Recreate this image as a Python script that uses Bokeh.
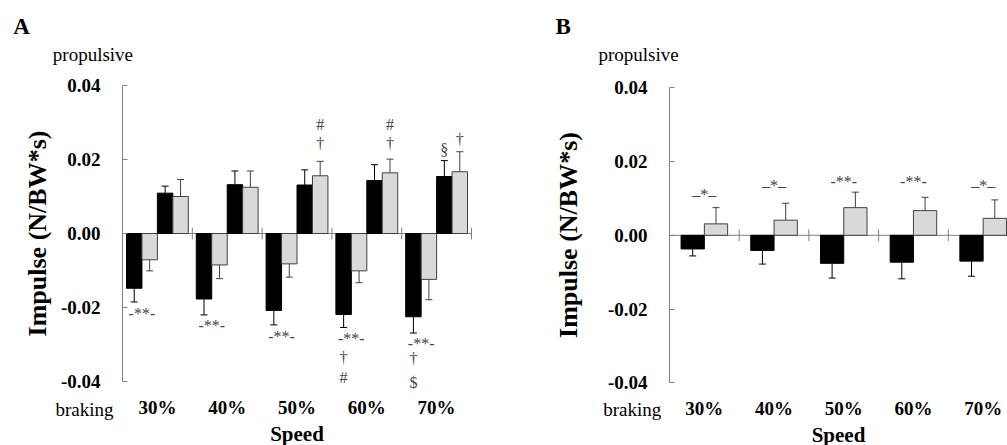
import numpy as np
from bokeh.plotting import figure
from bokeh.layouts import row
from bokeh.models import (Range1d, FixedTicker, NumeralTickFormatter, Whisker,
                          TeeHead, ColumnDataSource, Label)
from bokeh.core.properties import value
from bokeh.embed import file_html
from bokeh.resources import INLINE

# ---------------- data ----------------
speeds = ["30%", "40%", "50%", "60%", "70%"]

# Panel A
a_brake_black = [-0.0148, -0.0177, -0.0208, -0.0219, -0.0225]
a_brake_black_sd = [0.0037, 0.0043, 0.0039, 0.0035, 0.0044]
a_brake_grey = [-0.0071, -0.0085, -0.0082, -0.0101, -0.0124]
a_brake_grey_sd = [0.0030, 0.0037, 0.0036, 0.0032, 0.0055]
a_prop_black = [0.0109, 0.0132, 0.0131, 0.0143, 0.0154]
a_prop_black_sd = [0.0019, 0.0037, 0.0041, 0.0043, 0.0043]
a_prop_grey = [0.0100, 0.0125, 0.0156, 0.0164, 0.0167]
a_prop_grey_sd = [0.0046, 0.0044, 0.0039, 0.0037, 0.0054]

# Panel B
b_black = [-0.0037, -0.0041, -0.0076, -0.0073, -0.0070]
b_black_sd = [0.0019, 0.0037, 0.0040, 0.0045, 0.0041]
b_grey = [0.0031, 0.0041, 0.0075, 0.0067, 0.0046]
b_grey_sd = [0.0044, 0.0046, 0.0042, 0.0036, 0.0050]

# significance marks: (speed index, bar slot, y value, text)
a_marks = [
    (0, -1.0, -0.02154, "-**-"), (1, -1.0, -0.02486, "-**-"),
    (2, -1.0, -0.02784, "-**-"), (3, -1.0, -0.02830, "-**-"),
    (4, -1.0, -0.02981, "-**-"),
    (3, -1.5, -0.03343, "\u2020"), (3, -1.5, -0.03892, "#"),
    (4, -1.5, -0.03370, "\u2020"), (4, -1.5, -0.04035, "$"),
    (2, 1.5, 0.02440, "\u2020"), (2, 1.5, 0.02946, "#"),
    (3, 1.5, 0.02440, "\u2020"), (3, 1.5, 0.02946, "#"),
    (4, 0.5, 0.02262, "\u00a7"), (4, 1.5, 0.02532, "\u2020"),
]
b_marks = [
    (0, 0.0, 0.01098, "\u2013*\u2013"), (1, 0.0, 0.01350, "\u2013*\u2013"),
    (2, 0.0, 0.01459, "-**-"), (3, 0.0, 0.01459, "-**-"),
    (4, 0.0, 0.01350, "\u2013*\u2013"),
]

y_ticks = [-0.04, -0.02, 0.0, 0.02, 0.04]

# ---------------- style ----------------
FONT = "Liberation Serif"
BLACK = "#000000"
GREY_FILL = "#d9d9d9"
GREY_LINE = "#404040"
AXIS = "#808080"
NOTE = "#444444"

H = 445
W_A, W_B = 540, 467


def base_fig(width, xr, yr, title_standoff):
    p = figure(width=width, height=H, x_range=xr, y_range=yr,
               output_backend="svg", toolbar_location=None, min_border=0)
    p.outline_line_color = None
    p.xgrid.visible = False
    p.ygrid.visible = False
    p.background_fill_color = "white"
    p.border_fill_color = "white"

    n = len(speeds)
    ya = p.yaxis[0]
    ya.fixed_location = 0
    ya.ticker = FixedTicker(ticks=y_ticks)
    ya.formatter = NumeralTickFormatter(format="0.00")
    ya.bounds = (-0.04, 0.04)
    ya.axis_line_color = AXIS
    ya.major_tick_line_color = AXIS
    ya.major_tick_in = 5
    ya.major_tick_out = 0
    ya.minor_tick_line_color = None
    ya.major_label_standoff = 22
    ya.major_label_text_font = FONT
    ya.major_label_text_font_style = "bold"
    ya.major_label_text_font_size = "19px"
    ya.major_label_text_color = BLACK
    ya.axis_label = "Impulse (N/BW*s)"
    ya.axis_label_text_font = FONT
    ya.axis_label_text_font_style = "bold"
    ya.axis_label_text_font_size = "26px"
    ya.axis_label_text_color = BLACK
    ya.axis_label_standoff = title_standoff

    xa = p.xaxis[0]
    xa.fixed_location = -0.04343
    xa.bounds = (0, n)
    centers = [i + 0.5 for i in range(n)]
    xa.ticker = FixedTicker(ticks=centers)
    xa.major_label_overrides = {c: s for c, s in zip(centers, speeds)}
    xa.axis_line_color = None
    xa.major_tick_line_color = None
    xa.minor_tick_line_color = None
    xa.major_tick_in = 0
    xa.major_tick_out = 0
    xa.major_label_standoff = 3
    xa.major_label_text_font = FONT
    xa.major_label_text_font_style = "bold"
    xa.major_label_text_font_size = "19px"
    xa.major_label_text_color = BLACK
    xa.axis_label = "Speed"
    xa.axis_label_text_font = FONT
    xa.axis_label_text_font_style = "bold"
    xa.axis_label_text_font_size = "21px"
    xa.axis_label_text_color = BLACK
    xa.axis_label_standoff = 0

    # zero line with group separators
    p.segment(x0=[0], x1=[n], y0=[0], y1=[0], line_color=AXIS, line_width=1)
    seps = np.arange(1, n + 1)
    p.segment(x0=seps, x1=seps, y0=-0.0016, y1=0.0016, line_color=AXIS, line_width=1)
    return p


def bars(p, slot, width, vals, sds, fill, line, err_color):
    idx = np.arange(len(speeds)) + 0.5
    x = idx + slot * width
    v = np.array(vals)
    s = np.array(sds)
    p.vbar(x=x, bottom=0, top=v, width=width, fill_color=fill,
           line_color=line, line_width=1)
    if v.mean() < 0:
        src = ColumnDataSource(dict(x=x, lower=v - s, upper=v))
        w = Whisker(source=src, base="x", lower="lower", upper="upper",
                    dimension="height", line_color=err_color, line_width=1,
                    lower_head=TeeHead(size=7, line_color=err_color, line_width=1),
                    upper_head=None)
    else:
        src = ColumnDataSource(dict(x=x, lower=v, upper=v + s))
        w = Whisker(source=src, base="x", lower="lower", upper="upper",
                    dimension="height", line_color=err_color, line_width=1,
                    upper_head=TeeHead(size=7, line_color=err_color, line_width=1),
                    lower_head=None)
    p.add_layout(w)


def marks(p, items, width, color):
    xs = [i + 0.5 + slot * width for i, slot, _, _ in items]
    ys = [y for _, _, y, _ in items]
    ts = [t for _, _, _, t in items]
    src = ColumnDataSource(dict(x=xs, y=ys, t=ts))
    p.text(x="x", y="y", text="t", source=src, text_align="center",
           text_baseline="middle", text_font=value(FONT),
           text_font_size="16px", text_color=color)


def side_labels(p, letter_xy, prop_xy, brake_xy):
    p.add_layout(Label(x=letter_xy[0], y=letter_xy[1], text=letter_xy[2],
                       text_font=FONT, text_font_style="bold",
                       text_font_size="23px", text_align="left",
                       text_baseline="middle", text_color=BLACK))
    p.add_layout(Label(x=prop_xy[0], y=prop_xy[1], text="propulsive",
                       text_font=FONT, text_font_size="19px",
                       text_align="left", text_baseline="middle",
                       text_color=BLACK))
    p.add_layout(Label(x=brake_xy[0], y=brake_xy[1], text="braking",
                       text_font=FONT, text_font_size="19px",
                       text_align="right", text_baseline="middle",
                       text_color=BLACK))


# ---------------- panel A ----------------
# x: 69.8 px per speed group, y axis at 122 px; y: 3700 px per unit, zero at 233 px
wa = 0.2214
pA = base_fig(W_A, Range1d(-1.7479, 5.9885), Range1d(-0.057297, 0.062973), 6)
bars(pA, -1.5, wa, a_brake_black, a_brake_black_sd, BLACK, BLACK, BLACK)
bars(pA, -0.5, wa, a_brake_grey, a_brake_grey_sd, GREY_FILL, GREY_LINE, GREY_LINE)
bars(pA, 0.5, wa, a_prop_black, a_prop_black_sd, BLACK, BLACK, BLACK)
bars(pA, 1.5, wa, a_prop_grey, a_prop_grey_sd, GREY_FILL, GREY_LINE, GREY_LINE)
marks(pA, a_marks, wa, NOTE)
side_labels(pA, (-1.566, 0.05589, "A"), (-0.9986, 0.04838), (-0.129, -0.04746))

# ---------------- panel B ----------------
wb = 0.334
pB = base_fig(W_B, Range1d(-1.8508, 4.8494), Range1d(-0.057003, 0.063675), 22)
bars(pB, -0.5, wb, b_black, b_black_sd, BLACK, BLACK, BLACK)
bars(pB, 0.5, wb, b_grey, b_grey_sd, GREY_FILL, GREY_LINE, GREY_LINE)
marks(pB, b_marks, wb, NOTE)
side_labels(pB, (-1.636, 0.05657, "B"), (-1.019, 0.04900), (-0.119, -0.04713))

layout = row(pA, pB)
open("out.html", "w").write(file_html(layout, INLINE))
